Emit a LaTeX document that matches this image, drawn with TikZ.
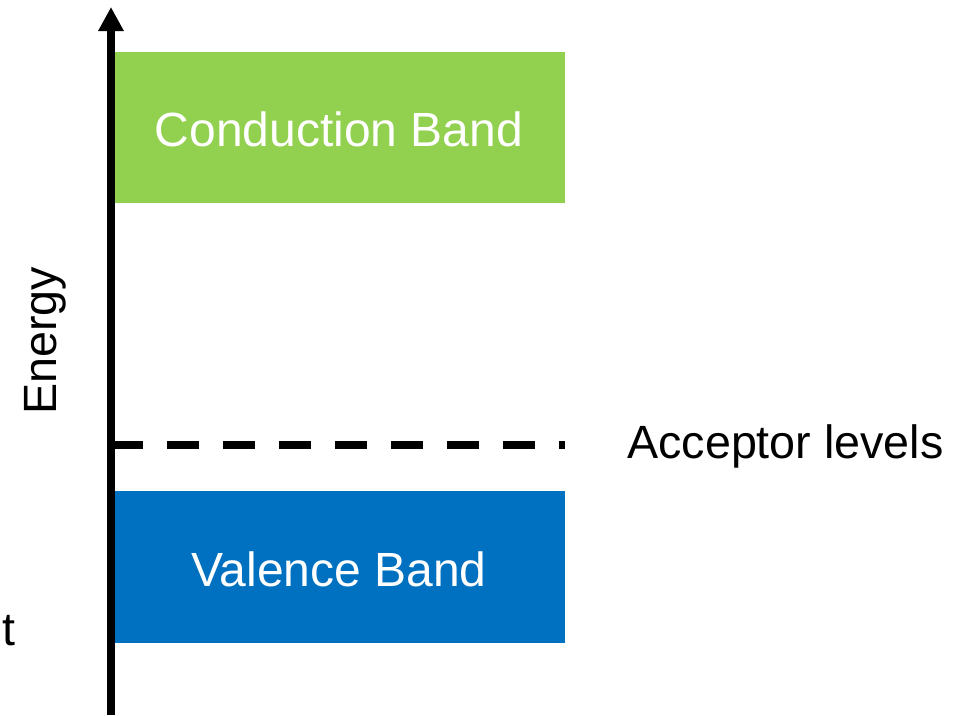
\documentclass[tikz,border=0pt]{standalone}
\usepackage{fontspec}
\setmainfont{Liberation Sans}
\usetikzlibrary{arrows.meta}
\definecolor{cbgreen}{HTML}{92D050}
\definecolor{vbblue}{HTML}{0070C0}
\tikzset{
  lbl/.style={inner sep=0pt, font=\fontsize{35pt}{42pt}\selectfont},
  bandlbl/.style={inner sep=0pt, text=white, font=\fontsize{36pt}{43pt}\selectfont},
  axis/.style={line width=6pt, -{Triangle[width=18pt,length=18pt]}},
  acc/.style={line width=6pt, dash pattern=on 24pt off 18pt}
}
\begin{document}
\begin{tikzpicture}[x=0.75pt,y=-0.75pt]
\useasboundingbox (0,0) rectangle (955,715);
\fill[cbgreen] (111,52) rectangle (565,203);
\fill[vbblue] (111,491) rectangle (565,643);
\node[bandlbl] (cb) at (339,129) {Conduction Band};
\node[bandlbl] (vb) at (339,569) {Valence Band};
\coordinate (accL) at (111,445);
\coordinate (accR) at (565,445);
\draw[acc] (accL) -- (accR);
\node[lbl, anchor=base west] (acclbl) at (627,458) {Acceptor levels};
\coordinate (axB) at (111,715);
\coordinate (axT) at (111,7);
\draw[axis] (axB) -- (axT);
\node[lbl, rotate=90, anchor=base west] (energy) at (56,415) {Energy};
\node[lbl, anchor=base west] (tt) at (2,645) {t};
\end{tikzpicture}
\end{document}
